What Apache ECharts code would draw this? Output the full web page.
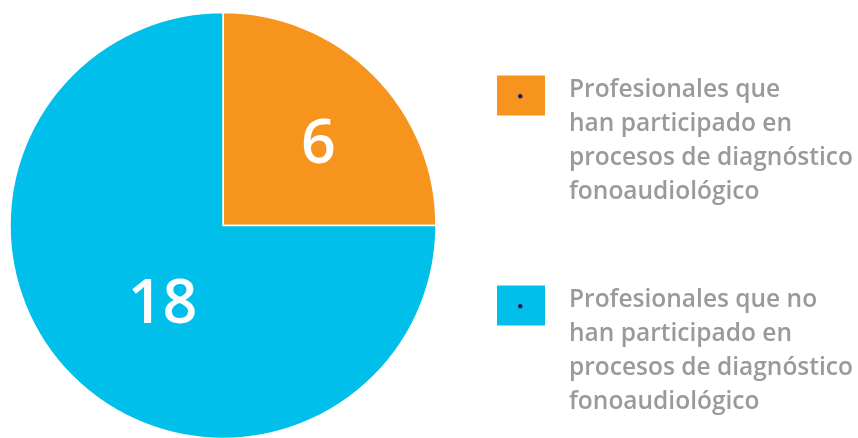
<!DOCTYPE html>
<html>
<head>
<meta charset="utf-8">
<script src="https://cdn.jsdelivr.net/npm/echarts@6/dist/echarts.min.js"></script>
<style>html,body{margin:0;padding:0;background:#fff}#c{width:858px;height:438px}</style>
</head>
<body>
<div id="c"></div>
<script>
const categories = [
  "Profesionales que\nhan participado en\nprocesos de diagnóstico\nfonoaudiológico",
  "Profesionales que no\nhan participado en\nprocesos de diagnóstico\nfonoaudiológico"
];
const values = [6, 18];
const colors = ["#F7941D", "#00BFEA"];

const chart = echarts.init(document.getElementById('c'), null, {renderer: 'canvas'});
const FONT = '"Open Sans"';
const rich = {
  s: {fontSize: 1, lineHeight: 92},
  t: {fontFamily: FONT, fontSize: 24.5, fontWeight: 600, color: '#9a9a9a', lineHeight: 34, padding: [0, 0, 0, 18]}
};
function textLegend(i, top) {
  return {
    orient: 'vertical', left: 495, top: top, padding: 0, selectedMode: false,
    icon: 'rect', itemWidth: 50, itemHeight: 42, itemGap: 0,
    data: [categories[i]],
    formatter: n => '{s| }\n' + n.split('\n').map(l => '{t|' + l + '}').join('\n'),
    textStyle: {rich: rich}
  };
}
function dotLegend(i, top) {
  return {
    orient: 'vertical', left: 518, top: top, padding: 0, selectedMode: false,
    icon: 'circle', itemWidth: 4.5, itemHeight: 4.5,
    itemStyle: {color: '#1d1d5c', borderWidth: 0},
    data: [categories[i]], formatter: () => '',
    textStyle: {fontSize: 1, lineHeight: 1}
  };
}
const labelShift = [[18, -2], [17, 3]];
chart.setOption({
  animation: false,
  color: colors,
  legend: [textLegend(0, 27), textLegend(1, 237), dotLegend(0, 94), dotLegend(1, 304)],
  series: [{
    type: 'pie',
    center: [223, 225.5],
    radius: 213,
    startAngle: 90,
    clockwise: true,
    silent: true,
    itemStyle: {borderColor: '#ffffff', borderWidth: 1.5},
    label: {
      show: true, position: 'inside', formatter: '{c}',
      color: '#ffffff', fontFamily: FONT, fontSize: 61, fontWeight: 600
    },
    labelLine: {show: false},
    labelLayout: function (p) { const s = labelShift[p.dataIndex]; return {dx: s[0], dy: s[1]}; },
    data: categories.map((n, i) => ({name: n, value: values[i]}))
  }]
});
</script>
</body>
</html>
